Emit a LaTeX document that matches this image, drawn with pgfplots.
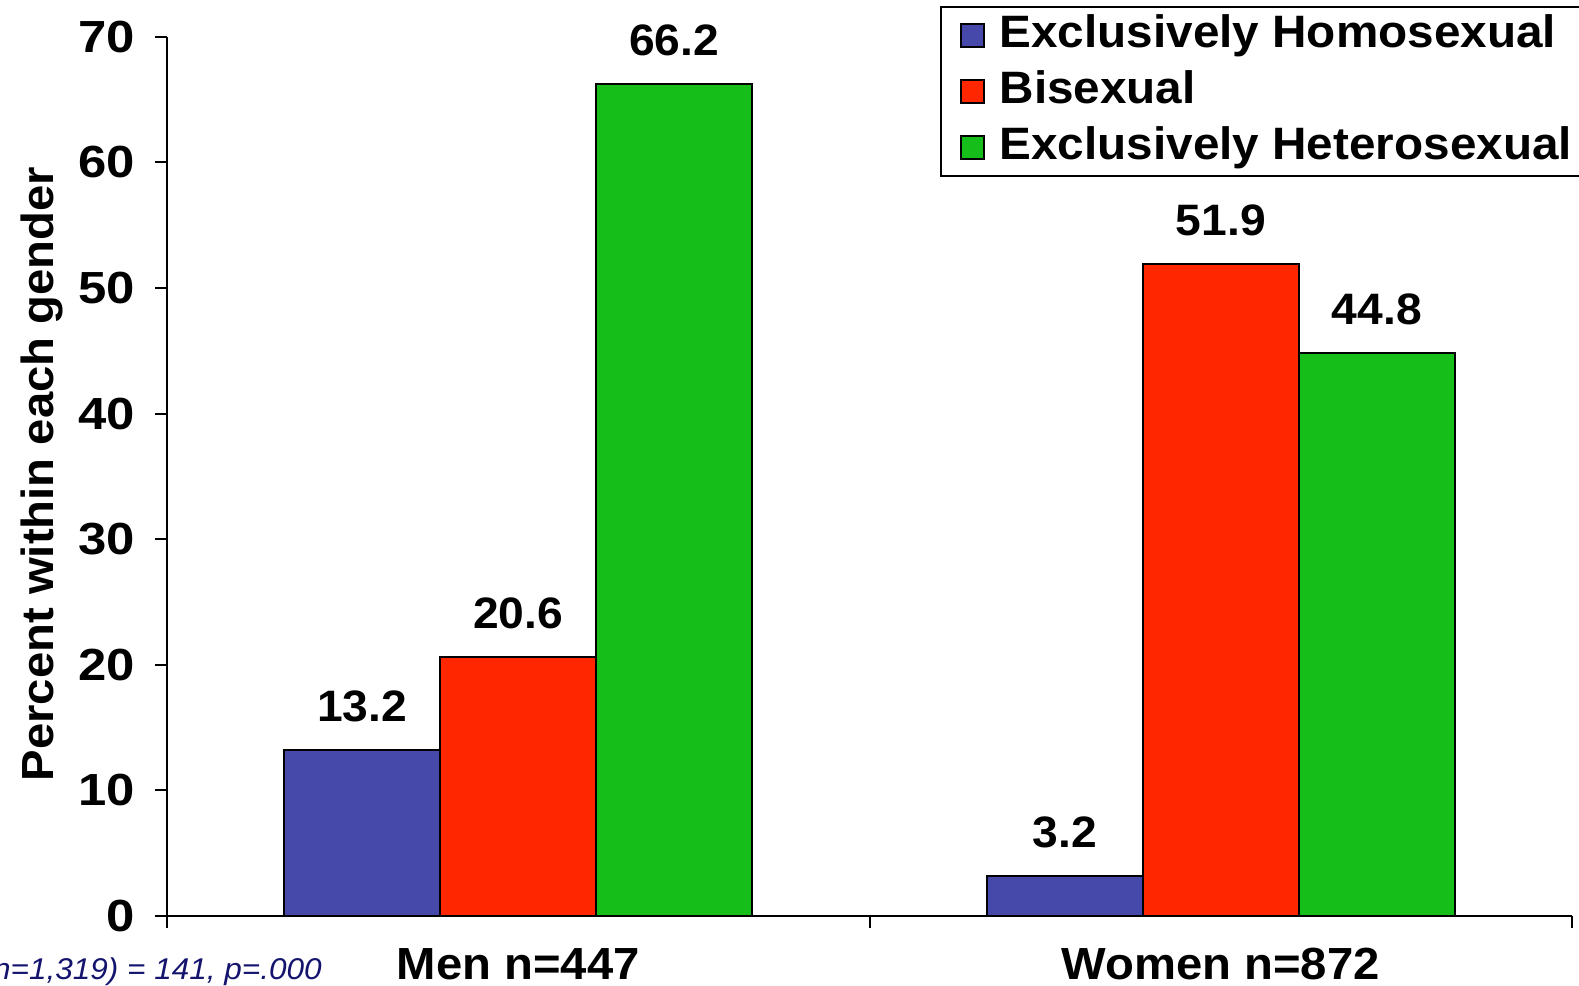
\documentclass[border=0pt]{standalone}
\usepackage{pgfplots}
\pgfplotsset{compat=1.18}
\usepackage{fontspec}
\setmainfont[FakeStretch=1.05]{Liberation Sans}
\newfontfamily\tickfont[FakeStretch=1.13]{Liberation Sans}
\definecolor{cblue}{RGB}{70,73,170}
\definecolor{cred}{RGB}{255,38,0}
\definecolor{cgreen}{RGB}{22,190,26}
\definecolor{cnavy}{RGB}{20,20,110}
\begin{document}
\begin{tikzpicture}[x=0.5pt,y=0.5pt]
\useasboundingbox (0,0) rectangle (1579,985);
\clip (0,0) rectangle (1579,985);
\begin{axis}[
  at={(83.5pt,34.5pt)}, anchor=south west,
  scale only axis, width=702.5pt, height=439.65pt,
  ybar=0pt, bar width=78pt,
  xmin=-0.5, xmax=1.5, ymin=0, ymax=70,
  axis lines*=left,
  axis line style={line width=1pt, black},
  xtick={-0.5,0.5,1.5},
  x tick label as interval,
  xticklabels={Men n=447, Women n=872},
  ytick={0,10,...,70},
  tick align=outside,
  major tick length=6pt,
  tick style={line width=1pt, black},
  /pgf/number format/assume math mode=true,
  xticklabel style={font=\fontsize{22.5}{22.5}\selectfont\bfseries, anchor=base, inner sep=0pt, yshift=-25.5pt},
  yticklabel style={font=\tickfont\fontsize{22.5}{22.5}\selectfont\bfseries, anchor=east, inner sep=0pt, xshift=-10pt},
  nodes near coords,
  nodes near coords style={font=\fontsize{22}{22}\selectfont\bfseries, anchor=south, inner sep=0pt, yshift=13.5pt},
  legend style={at={(0.5502,1.0349)}, anchor=north west, draw=black, line width=1pt, fill=white,
    inner xsep=9.5pt, inner ysep=3pt, row sep=5.5pt,
    font=\fontsize{22.7}{22.7}\selectfont\bfseries,
    nodes={inner sep=0pt, text height=17pt, text depth=5.5pt},
    cells={anchor=west},
    /tikz/every odd column/.append style={column sep=7.5pt}},
  legend image code/.code={\draw[#1, draw=black, line width=0.8pt] (0pt,-5.75pt) rectangle (11.5pt,5.75pt);},
]
\addplot[fill=cblue, draw=black, line width=1pt] coordinates {(0,13.2) (1,3.2)};
\addplot[fill=cred, draw=black, line width=1pt] coordinates {(0,20.6) (1,51.9)};
\addplot[fill=cgreen, draw=black, line width=1pt] coordinates {(0,66.2) (1,44.8)};
\legend{Exclusively Homosexual, Bisexual, Exclusively Heterosexual}
\end{axis}
\node[rotate=90, anchor=base, inner sep=0pt, font=\fontsize{22.5}{22.5}\selectfont\bfseries] at (53,511) {Percent within each gender};
\node[anchor=base east, inner sep=0pt, font=\fontsize{15}{15}\selectfont\itshape, text=cnavy] at (322,6) {χ²(2, n=1,319) = 141, p=.000};
\end{tikzpicture}
\end{document}
